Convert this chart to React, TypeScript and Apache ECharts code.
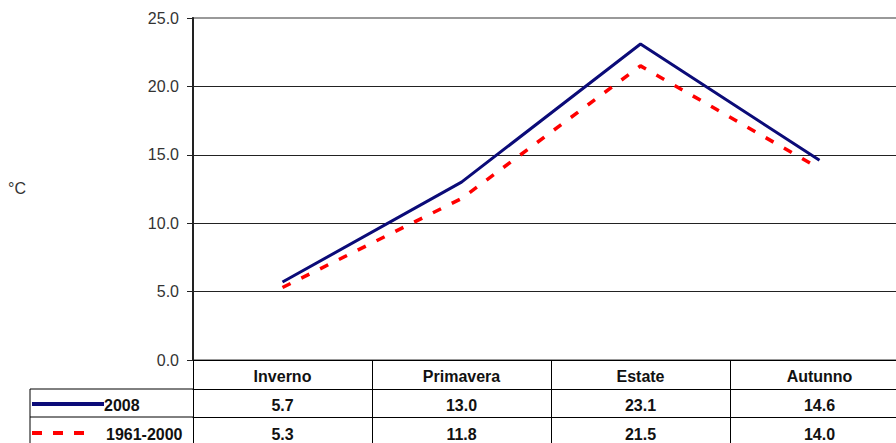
import React, { useEffect, useRef } from "react";
import * as echarts from "echarts";

const categories = ["Inverno", "Primavera", "Estate", "Autunno"];
const seriesNames = ["2008", "1961-2000"];
const values2008 = [5.7, 13.0, 23.1, 14.6];
const values1961 = [5.3, 11.8, 21.5, 14.0];
const yTicks = { min: 0, max: 25, interval: 5 };
const unitLabel = "°C";

const FONT = "'Liberation Sans', Arial, sans-serif";

export default function App() {
  const ref = useRef<HTMLDivElement>(null);
  useEffect(() => {
    if (!ref.current) return;
    const chart = echarts.init(ref.current, null, { renderer: "svg" });
    const gridLeft = 193;
    const gridTop = 18;
    const gridH = 342;
    const axisY = gridTop + gridH;
    const off1 = 29;
    const off2 = 57;
    const row1 = axisY + off1;
    const row2 = axisY + off2;
    const tableLeft = 30;
    const navy = "#0b0b78";
    const red = "#ff0000";
    const tableLabel = { fontWeight: "bold", fontSize: 16, color: "#111", fontFamily: FONT };
    chart.setOption({
      animation: false,
      backgroundColor: "#fff",
      grid: {
        left: gridLeft,
        top: gridTop,
        width: 716,
        height: gridH,
        show: true,
        borderColor: "#999",
        borderWidth: 2,
      },
      xAxis: [
        {
          type: "category",
          data: categories,
          position: "bottom",
          axisLine: { lineStyle: { color: "#000", width: 1 } },
          axisTick: { show: true, length: 83, lineStyle: { color: "#000", width: 1 } },
          axisLabel: { ...tableLabel, margin: 8 },
        },
        {
          type: "category",
          data: values2008.map((v) => v.toFixed(1)),
          position: "bottom",
          offset: off1,
          axisLine: { lineStyle: { color: "#000", width: 1 } },
          axisTick: { show: false },
          axisLabel: { ...tableLabel, margin: 8 },
        },
        {
          type: "category",
          data: values1961.map((v) => v.toFixed(1)),
          position: "bottom",
          offset: off2,
          axisLine: { lineStyle: { color: "#000", width: 1 } },
          axisTick: { show: false },
          axisLabel: { ...tableLabel, margin: 9 },
        },
      ],
      yAxis: {
        type: "value",
        min: yTicks.min,
        max: yTicks.max,
        interval: yTicks.interval,
        axisLine: { show: true, lineStyle: { color: "#222", width: 2 } },
        axisTick: { show: true, length: 6, lineStyle: { color: "#222" } },
        axisLabel: {
          formatter: (v: number) => v.toFixed(1),
          fontSize: 16,
          color: "#333",
          margin: 14,
          fontFamily: FONT,
        },
        splitLine: {
          show: true,
          lineStyle: { color: ["#222", "#222", "#222", "#222", "#222", "#999"], width: 1 },
        },
      },
      series: [
        {
          name: seriesNames[1],
          type: "line",
          data: values1961,
          xAxisIndex: 0,
          showSymbol: false,
          symbol: "none",
          lineStyle: { color: red, width: 3.5, type: [9, 12] },
          z: 2,
        },
        {
          name: seriesNames[0],
          type: "line",
          data: values2008,
          xAxisIndex: 0,
          showSymbol: false,
          symbol: "none",
          lineStyle: { color: navy, width: 3 },
          z: 3,
        },
      ],
      graphic: [
        { type: "line", shape: { x1: tableLeft, y1: row1, x2: gridLeft, y2: row1 }, style: { stroke: "#000", lineWidth: 1 } },
        { type: "line", shape: { x1: tableLeft, y1: row2, x2: gridLeft, y2: row2 }, style: { stroke: "#000", lineWidth: 1 } },
        { type: "line", shape: { x1: tableLeft, y1: row1, x2: tableLeft, y2: 443 }, style: { stroke: "#000", lineWidth: 1 } },
        { type: "line", shape: { x1: 32, y1: row1 + 15, x2: 104, y2: row1 + 15 }, style: { stroke: navy, lineWidth: 4 } },
        {
          type: "text",
          x: 104,
          y: row1 + 16,
          style: { text: seriesNames[0], fontSize: 16, fontWeight: "bold", fill: "#111", fontFamily: FONT, verticalAlign: "middle" },
        },
        { type: "line", shape: { x1: 32, y1: row2 + 16, x2: 95, y2: row2 + 16 }, style: { stroke: red, lineWidth: 4, lineDash: [10, 11] } },
        {
          type: "text",
          x: 106,
          y: row2 + 17,
          style: { text: seriesNames[1], fontSize: 16, fontWeight: "bold", fill: "#111", fontFamily: FONT, verticalAlign: "middle" },
        },
        {
          type: "text",
          x: 8,
          y: 188,
          style: { text: unitLabel, fontSize: 16, fill: "#333", fontFamily: FONT, verticalAlign: "middle" },
        },
      ],
    });
    return () => chart.dispose();
  }, []);
  return (
    <div style={{ position: "absolute", left: 0, top: 0, width: 896, height: 443, overflow: "hidden" }}>
      <div ref={ref} style={{ width: 930, height: 443 }} />
    </div>
  );
}
